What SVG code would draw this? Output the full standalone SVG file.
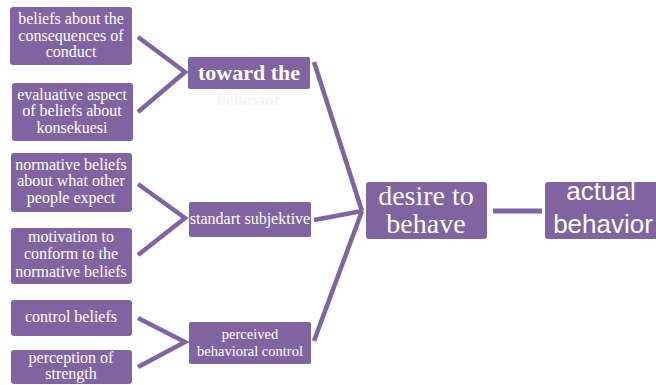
<svg xmlns="http://www.w3.org/2000/svg" width="656" height="385" viewBox="0 0 656 385">
<style>
.box{fill:#8064A2;}
.t{font-family:"Liberation Serif","Times New Roman",serif;font-size:16px;fill:#ffffff;text-anchor:middle;}
.big{font-family:"Liberation Serif","Times New Roman",serif;font-size:28px;fill:#ffffff;text-anchor:middle;}
.sans{font-family:"Liberation Sans",Arial,sans-serif;font-size:26px;fill:#ffffff;text-anchor:middle;}
.c{stroke:#8064A2;stroke-width:4.5;fill:none;stroke-linecap:butt;stroke-linejoin:miter;}
</style>
<rect width="656" height="385" fill="#ffffff"/>
<g id="connectors">
<polyline class="c" points="138,37 185,72 138,112"/>
<polyline class="c" points="138,184 185,218 138,255"/>
<polyline class="c" points="138,318 185,342 138,367"/>
<line class="c" x1="314" y1="62" x2="362" y2="211"/>
<line class="c" x1="314" y1="220" x2="362" y2="211"/>
<line class="c" x1="314" y1="341" x2="362" y2="211"/>
<line class="c" x1="493" y1="211" x2="542" y2="211" style="stroke-width:5"/>
</g>
<g id="n1"><rect class="box" x="10" y="7" width="122" height="58" rx="3"/>
<text class="t" x="71" y="24">beliefs about the</text>
<text class="t" x="71" y="41">consequences of</text>
<text class="t" x="71" y="57">conduct</text></g>
<g id="n2"><rect class="box" x="12" y="83" width="121" height="58" rx="3"/>
<text class="t" x="72" y="100">evaluative aspect</text>
<text class="t" x="72" y="116">of beliefs about</text>
<text class="t" x="72" y="133">konsekuesi</text></g>
<g id="n3"><rect class="box" x="188" y="57" width="122" height="32" rx="2"/>
<text class="t" x="249" y="80" style="font-size:22px;font-weight:bold">toward the</text>
<text class="t" x="249" y="105" style="font-size:17px;font-weight:bold;fill:#f6f4f8">behavior</text></g>
<g id="n4"><rect class="box" x="11" y="153" width="121" height="59" rx="3"/>
<text class="t" x="71" y="170">normative beliefs</text>
<text class="t" x="71" y="186">about what other</text>
<text class="t" x="71" y="203">people expect</text></g>
<g id="n5"><rect class="box" x="11" y="228" width="121" height="56" rx="3"/>
<text class="t" x="71" y="242">motivation to</text>
<text class="t" x="71" y="259">conform to the</text>
<text class="t" x="71" y="277">normative beliefs</text></g>
<g id="n6"><rect class="box" x="189" y="202" width="122" height="35" rx="2"/>
<text class="t" x="250" y="224">standart subjektive</text></g>
<g id="n7"><rect class="box" x="11" y="300" width="121" height="36" rx="3"/>
<text class="t" x="71" y="322">control beliefs</text></g>
<g id="n8"><rect class="box" x="11" y="350" width="121" height="34" rx="3"/>
<text class="t" x="71" y="363">perception of</text>
<text class="t" x="71" y="379">strength</text></g>
<g id="n9"><rect class="box" x="189" y="322" width="122" height="42" rx="2"/>
<text class="t" x="250" y="339" style="font-size:14.5px">perceived</text>
<text class="t" x="250" y="356" style="font-size:14.5px">behavioral control</text></g>
<g id="n10"><rect class="box" x="366" y="182" width="121" height="57" rx="3"/>
<text class="big" x="426" y="205">desire to</text>
<text class="big" x="426" y="233">behave</text></g>
<g id="n11"><rect class="box" x="545" y="182" width="120" height="57" rx="3"/>
<text class="sans" x="601" y="200">actual</text>
<text class="sans" x="603" y="233">behavior</text></g>
</svg>
